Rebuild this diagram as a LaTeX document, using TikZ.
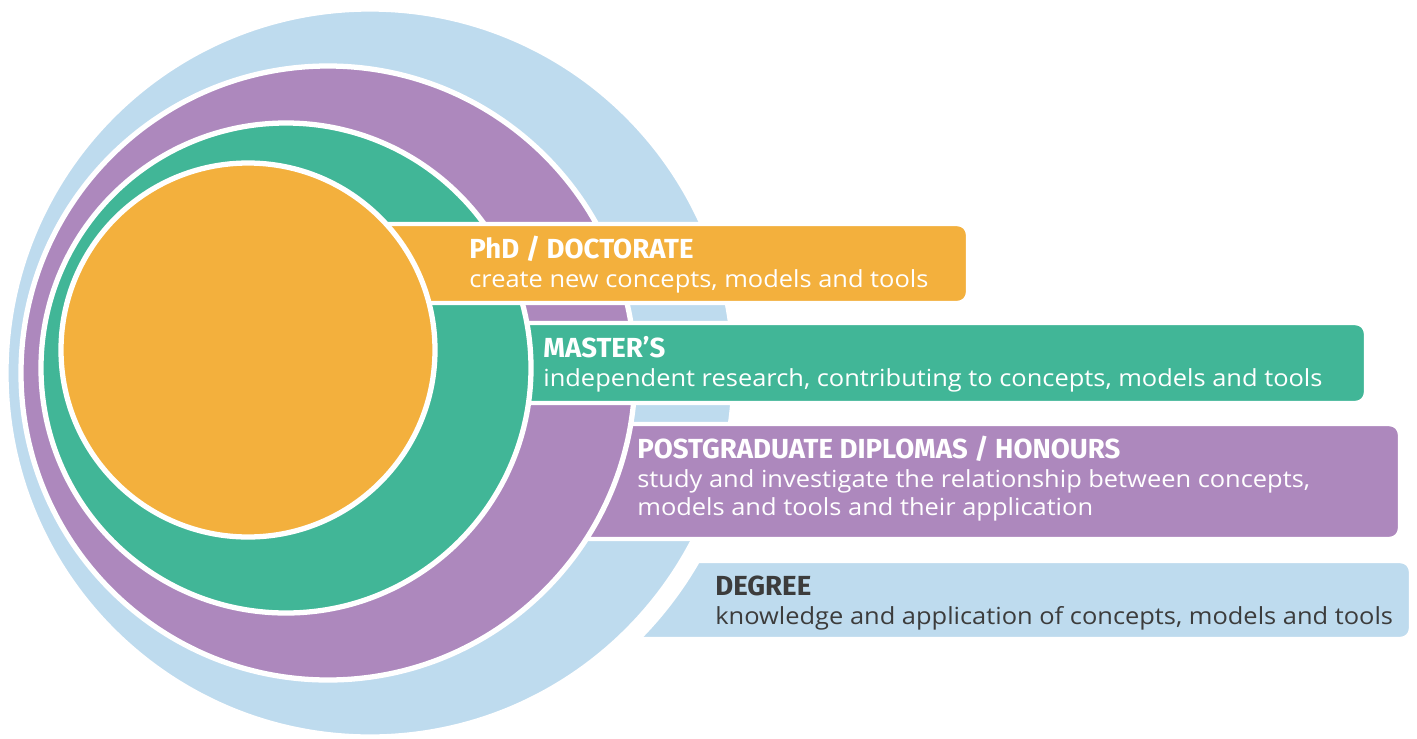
\documentclass[tikz,border=0pt]{standalone}
\usepackage{fontspec}
\setmainfont{Open Sans}[FakeStretch=1.08]
\newfontfamily\headfont{Fira Sans}

\definecolor{phdorange}{HTML}{F3B03D}
\definecolor{mastgreen}{HTML}{41B697}
\definecolor{pgpurple}{HTML}{AD88BD}
\definecolor{degblue}{HTML}{BEDBEE}
\definecolor{darktext}{HTML}{3C3C3C}

\tikzset{
	disc/.style={draw=white, line width=3pt},
	band/.style={draw=white, line width=2.5pt, rounded corners=6pt},
	title/.style={anchor=base west, inner sep=0pt, text=white, font=\headfont\bfseries\fontsize{15.7}{17}\selectfont},
	blurb/.style={anchor=base west, inner sep=0pt, text=white, align=left, font=\fontsize{13.4}{15.9}\selectfont},
}

\begin{document}
\begin{tikzpicture}[x=0.02cm, y=-0.02cm]
	\useasboundingbox (0,0) rectangle (1417,738);

	% degree
	\path[band, fill=degblue]    (380,561) rectangle (1411,639);
	\fill[white]                 (370,373) circle (380);
	\path[disc, fill=degblue]    (370,373) circle (364);

	% postgraduate diplomas / honours
	\path[band, fill=pgpurple]   (340,424) rectangle (1400,539);
	\path[disc, fill=pgpurple]   (328,373) circle (307);

	% master's
	\path[band, fill=mastgreen]  (300,323) rectangle (1366,403);
	\path[disc, fill=mastgreen]  (286,368) circle (245);

	% phd / doctorate
	\path[band, fill=phdorange]  (250,224) rectangle (968,303);
	\path[disc, fill=phdorange]  (248,350) circle (187);

	\node[title] (phdhead)  at (469,258) {PhD / DOCTORATE};
	\node[blurb] (phdtext)  at (469,287) {create new concepts, models and tools};

	\node[title] (masthead) at (543,357) {MASTER’S};
	\node[blurb] (masttext) at (543,386) {independent research, contributing to concepts, models and tools};

	\node[title] (pghead)   at (637,458) {POSTGRADUATE DIPLOMAS / HONOURS};
	% base of a two-line node is its last line
	\node[blurb] (pgtext)   at (637,515) {study and investigate the relationship between concepts,\\models and tools and their application};

	\node[title, text=darktext] (deghead) at (715,595) {DEGREE};
	\node[blurb, text=darktext] (degtext) at (715,624) {knowledge and application of concepts, models and tools};
\end{tikzpicture}
\end{document}
